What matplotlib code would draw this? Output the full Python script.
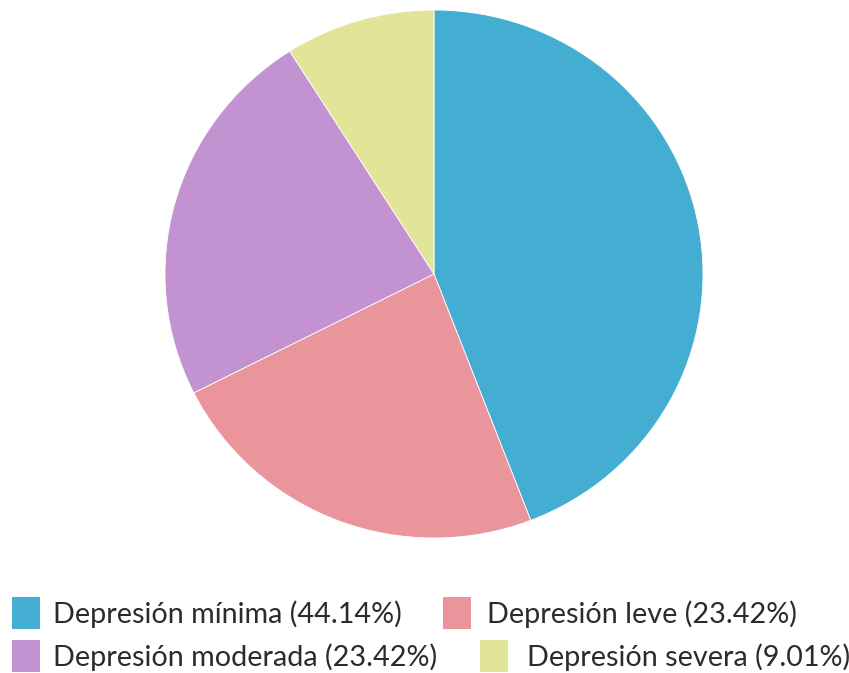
import matplotlib.pyplot as plt
from matplotlib.patches import Patch

plt.rcParams["font.family"] = ["Lato", "DejaVu Sans"]

# Distribución por nivel de depresión
categorias = ["Depresión mínima", "Depresión leve", "Depresión moderada", "Depresión severa"]
porcentajes = [44.14, 23.42, 23.42, 9.01]
colores = ["#43AED2", "#EA959C", "#C293D0", "#E2E597"]

W, H = 849, 673
fig = plt.figure(figsize=(W / 100, H / 100), dpi=100)
# Caja del pastel en píxeles: izquierda, arriba, ancho, alto
ax = fig.add_axes([165 / W, 1 - 538 / H, 538 / W, 528 / H])
ax.pie(
    porcentajes,
    colors=colores,
    startangle=90,
    counterclock=False,
    wedgeprops=dict(edgecolor="white", linewidth=0.6),
)
ax.set_xlim(-1.0, 1.0)
ax.set_ylim(-1.0, 1.0)
ax.set_aspect("auto")
ax.axis("off")

etiquetas = [f"{c} ({p:.2f}%)" for c, p in zip(categorias, porcentajes)]

# Leyenda en dos filas con posiciones en píxeles (x del cuadro, y del centro)
posiciones = [(12, 613), (443, 613), (12, 656), (480, 656)]
separacion = [0.45, 0.56, 0.45, 0.66]

for etiqueta, color, (px, py), sep in zip(etiquetas, colores, posiciones, separacion):
    fig.legend(
        [Patch(facecolor=color, edgecolor="none")],
        [etiqueta],
        loc="center left",
        bbox_to_anchor=(px / W, 1 - py / H),
        frameon=False,
        fontsize=20.7,
        handlelength=0.97,
        handleheight=1.35,
        handletextpad=sep,
        labelcolor="#2b2b2b",
        borderaxespad=0,
        borderpad=0,
    )

fig.savefig("out.png", dpi=100)
